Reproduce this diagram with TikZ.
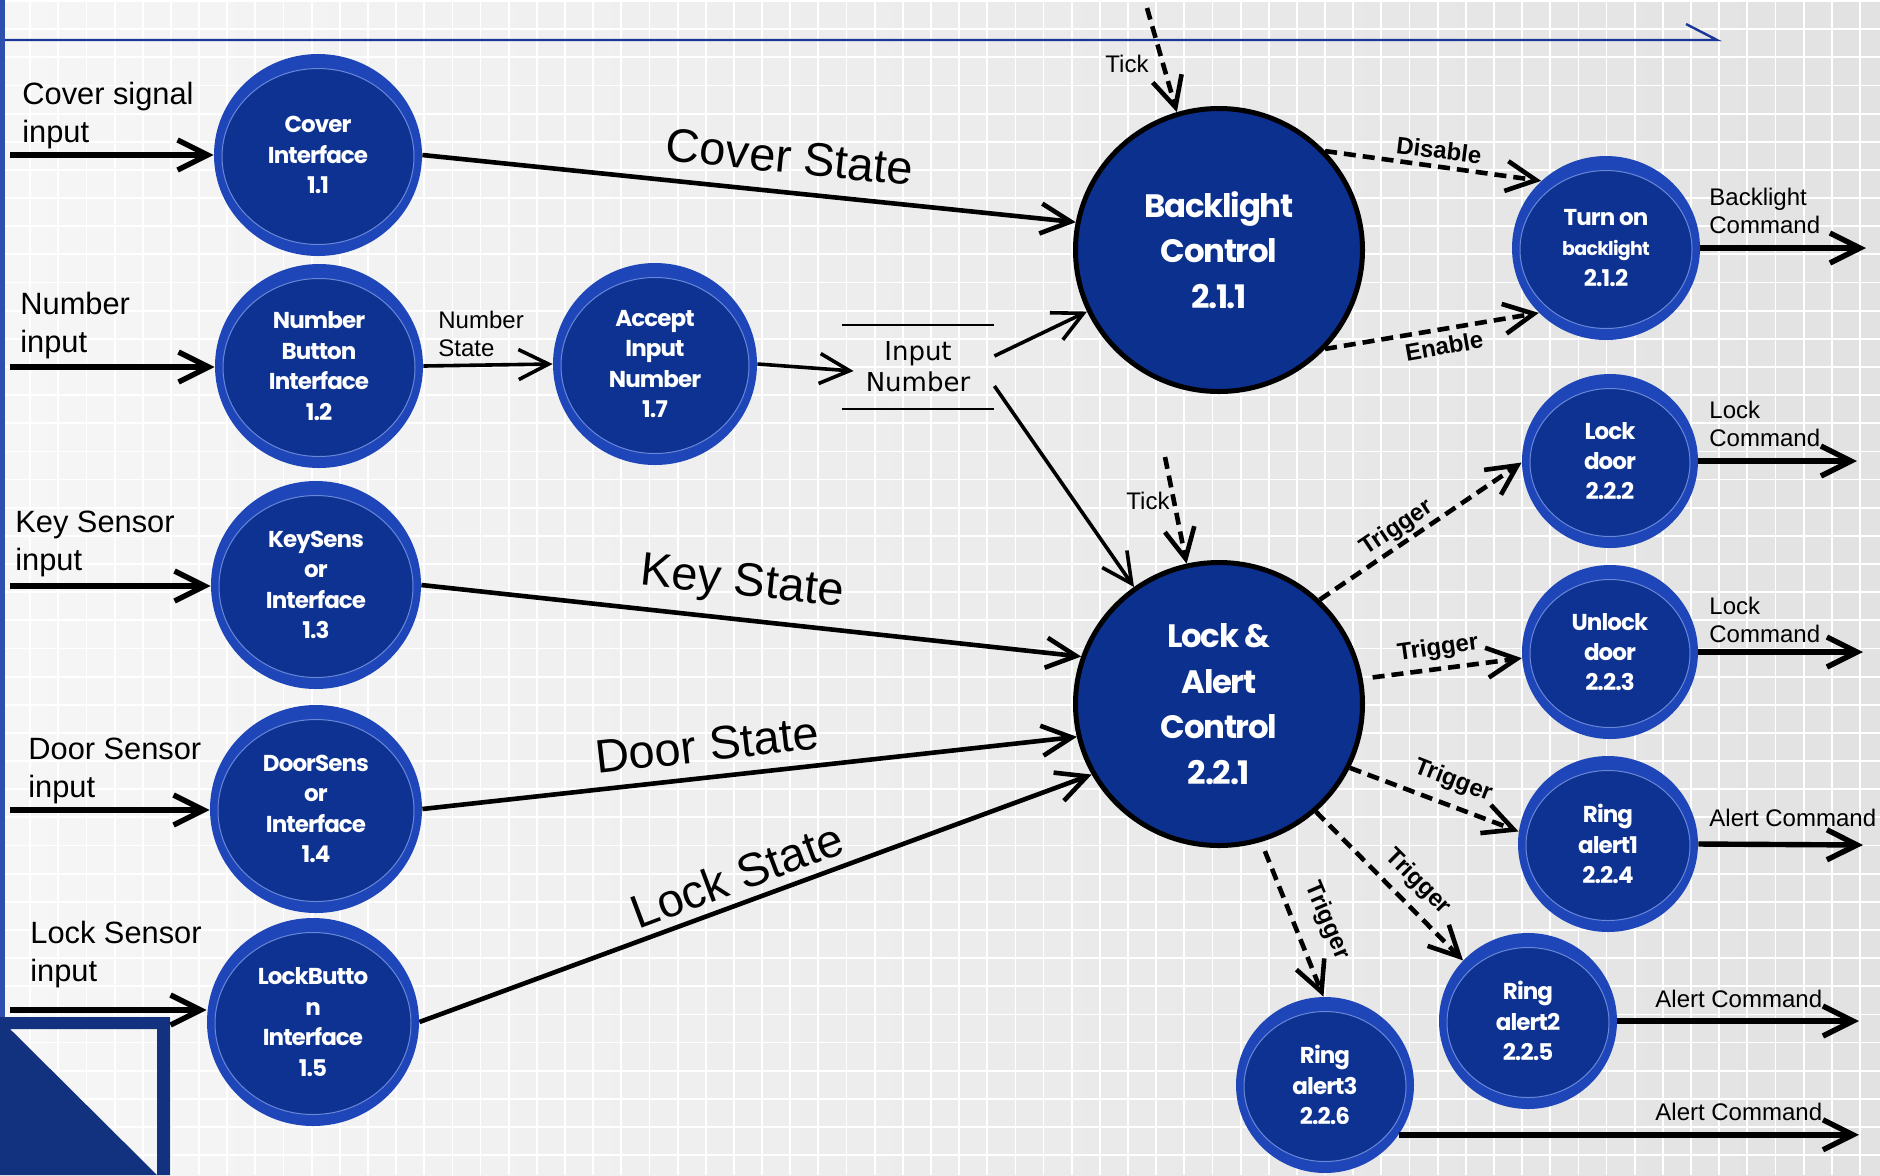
\documentclass[tikz,border=0pt]{standalone}
\usepackage{fontspec}
\setmainfont{Liberation Sans}
\newfontfamily\nodefont[LetterSpace=-4]{Poppins}
\newfontfamily\storefont{DejaVu Sans}
\usetikzlibrary{arrows.meta,calc,shapes.geometric}
\definecolor{rim}{RGB}{30,70,185}
\definecolor{innerblue}{RGB}{13,50,146}
\definecolor{innerline}{RGB}{105,135,215}
\definecolor{bigfill}{RGB}{12,48,142}
\definecolor{bgA}{RGB}{246,246,246}
\definecolor{bgB}{RGB}{226,226,226}
\definecolor{topline}{RGB}{25,55,150}
\definecolor{leftband}{RGB}{45,80,175}
\definecolor{cornerblue}{RGB}{18,50,128}
\newcommand\snode[6]{%
  \fill[rim] (#2,#3) ellipse [x radius=#4, y radius=#5];
  \filldraw[fill=innerblue, draw=innerline, line width=0.5pt] (#2,#3+1.5) ellipse [x radius=#4-8, y radius=#5-13];
  \node[smallnode, minimum width=#4pt, minimum height=#5pt] (#1) at (#2,#3) {#6};}
\begin{document}
\begin{tikzpicture}[x=0.5pt,y=-0.5pt,
  smallnode/.style={ellipse, inner sep=0pt, text=white, align=center,
    font=\nodefont\bfseries\fontsize{11.5}{15.2}\selectfont},
  bignode/.style={ellipse, inner sep=0pt, fill=bigfill, draw=black, line width=2.5pt,
    minimum width=143.5pt, minimum height=141.5pt, text=white, align=center,
    font=\nodefont\bfseries\fontsize{16.2}{22.8}\selectfont},
  storenode/.style={inner sep=0pt, minimum width=76pt, minimum height=42pt, align=center,
    font=\storefont\fontsize{13}{15.5}\selectfont},
  inlabel/.style={anchor=north west, inner sep=0pt, align=left,
    font=\fontsize{15.4}{19}\selectfont},
  smalllabel/.style={anchor=north west, inner sep=0pt, align=left,
    font=\fontsize{12}{14}\selectfont},
  statelabel/.style={inner sep=0pt, font=\fontsize{23.5}{26}\selectfont},
  triglabel/.style={inner sep=0pt, font=\bfseries\fontsize{12}{14}\selectfont},
  flow/.style={line width=2.3pt, -{Straight Barb[length=15pt, width=15pt]}},
  inflow/.style={flow, line width=2.7pt},
  thinflow/.style={flow, line width=1.8pt},
  trig/.style={flow, dash pattern=on 6pt off 3.5pt},
  gridline/.style={white, line width=0.9pt}
]
\useasboundingbox (0,0) rectangle (1880,1175);
% background
\shade[left color=bgA, right color=bgB] (0,0) rectangle (1880,1175);
\foreach \i in {0,...,66} {\draw[gridline] ({2+28.15*\i},0) -- ({2+28.15*\i},1175);}
\foreach \j in {0,...,41} {\draw[gridline] (0,{1+28.15*\j}) -- (1880,{1+28.15*\j});}
\fill[leftband] (0,0) rectangle (5,1175);
\draw[topline, line width=1.2pt] (5,40) -- (1717,40) -- (1686,24);
\fill[cornerblue, even odd rule] (0,1017) rectangle (170,1175) (10,1029) -- (157,1029) -- (157,1175) -- cycle;

% small process nodes
\snode{cov}{318}{155}{104}{101}{Cover\\Interface\\1.1}
\snode{num}{319}{366}{104}{102}{Number\\Button\\Interface\\1.2}
\snode{acc}{655}{364}{102}{101}{Accept\\Input\\Number\\1.7}
\snode{key}{316}{585}{105}{104}{KeySens\\or\\Interface\\1.3}
\snode{door}{316}{809}{106}{104}{DoorSens\\or\\Interface\\1.4}
\snode{lockb}{313}{1022}{106}{104}{LockButto\\n\\Interface\\1.5}
\snode{ton}{1606}{248}{94}{92}{Turn on\\{\fontsize{9.5}{12}\selectfont backlight}\\2.1.2}
\snode{ld}{1610}{461}{88}{87}{Lock\\door\\2.2.2}
\snode{ud}{1610}{652}{88}{87}{Unlock\\door\\2.2.3}
\snode{ra}{1608}{844}{90}{88}{Ring\\alert1\\2.2.4}
\snode{rb}{1528}{1021}{89}{88}{Ring\\alert2\\2.2.5}
\snode{rc}{1325}{1085}{89}{88}{Ring\\alert3\\2.2.6}

% big control nodes
\node[bignode] (blc) at (1219,250) {Backlight\\Control\\2.1.1};
\node[bignode] (lac) at (1219,704) {Lock \&\\Alert\\Control\\2.2.1};

% data store
\node[storenode] (store) at (918,367) {Input\\Number};
\draw[line width=1pt] (store.north west) -- (store.north east) (store.south west) -- (store.south east);

% free ends
\coordinate (i1) at (10,155);
\coordinate (i2) at (10,367);
\coordinate (i3) at (10,586);
\coordinate (i4) at (10,810);
\coordinate (i5) at (10,1010);
\coordinate (t1) at (1147,8);
\coordinate (t2) at (1165,457);
\coordinate (o1) at (1866,248);
\coordinate (o2) at (1857,461);
\coordinate (o3) at (1863,652);
\coordinate (o4) at (1863,845);
\coordinate (o5) at (1859,1021);
\coordinate (o6) at (1859,1135);

% inputs
\draw[inflow] (i1) -- (i1 -| cov.west);
\draw[inflow] (i2) -- (i2 -| num.west);
\draw[inflow] (i3) -- (i3 -| key.west);
\draw[inflow] (i4) -- (i4 -| door.west);
\draw[inflow] (i5) -- (i5 -| lockb.west);
\node[inlabel] at (22,82) {Cover signal\\input};
\node[inlabel] at (20,292) {Number\\input};
\node[inlabel] at (15,511) {Key Sensor\\input};
\node[inlabel] at (28,738) {Door Sensor\\input};
\node[inlabel] at (30,921) {Lock Sensor\\input};

% flows
\draw[flow] (cov.east) -- (blc.169);
\node[statelabel, rotate=-5.8] at (790,157) {Cover State};
\draw[thinflow] (num.east) -- (acc.west);
\node[smalllabel] at (438,311) {Number\\State};
\draw[thinflow] (acc.east) -- ($(store.west)+(12,4)$);
\draw[thinflow] ($(store.east)+(0,-11)$) -- (blc.205);
\draw[thinflow] ($(store.east)+(0,19)$) -- (lac.126);
\draw[flow] (key.east) -- (lac.161);
\node[statelabel, rotate=-6] at (742,584) {Key State};
\draw[flow] (door.east) -- (lac.193);
\node[statelabel, rotate=6.5] at (707,745) {Door State};
\draw[flow] (lockb.east) -- (lac.209);
\node[statelabel, rotate=20.5] at (737,875) {Lock State};

% ticks
\draw[trig] (t1) -- (blc.107);
\node[smalllabel] at (1105,55) {Tick};
\draw[trig] (t2) -- (lac.103);
\node[smalllabel] at (1126,492) {Tick};

% backlight control outputs
\draw[trig] (blc.43) -- (ton.134);
\node[triglabel, rotate=-7] at (1439,150) {Disable};
\draw[trig] (blc.317) -- (ton.224);
\node[triglabel, rotate=10] at (1444,346) {Enable};
\draw[inflow] (ton.east) -- (o1);
\node[smalllabel] at (1709,188) {Backlight\\Command};

% lock & alert outputs
\draw[trig] (lac.46) -- (ld.181);
\node[triglabel, rotate=34] at (1397,528) {Trigger};
\draw[trig, shorten <=5pt] (lac.10) -- (ud.184);
\node[triglabel, rotate=8] at (1438,649) {Trigger};
\draw[trig] (lac.334) -- (ra.172);
\node[triglabel, rotate=-21] at (1453,781) {Trigger};
\draw[trig] (lac.312) -- (rb.137);
\node[triglabel, rotate=-45] at (1418,882) {Trigger};
\draw[trig, shorten <=5pt] (lac.287) -- (rc.91);
\node[triglabel, rotate=-67] at (1327,921) {Trigger};

\draw[inflow] (ld.east) -- (o2);
\node[smalllabel] at (1709,401) {Lock\\Command};
\draw[inflow] (ud.east) -- (o3);
\node[smalllabel] at (1709,597) {Lock\\Command};
\draw[inflow] (ra.east) -- (o4);
\node[smalllabel] at (1709,809) {Alert Command};
\draw[inflow] (rb.east) -- (o5);
\node[smalllabel] at (1655,990) {Alert Command};
\draw[inflow] (rc.326) -- (rc.326 -| o6);
\node[smalllabel] at (1655,1103) {Alert Command};
\end{tikzpicture}
\end{document}
